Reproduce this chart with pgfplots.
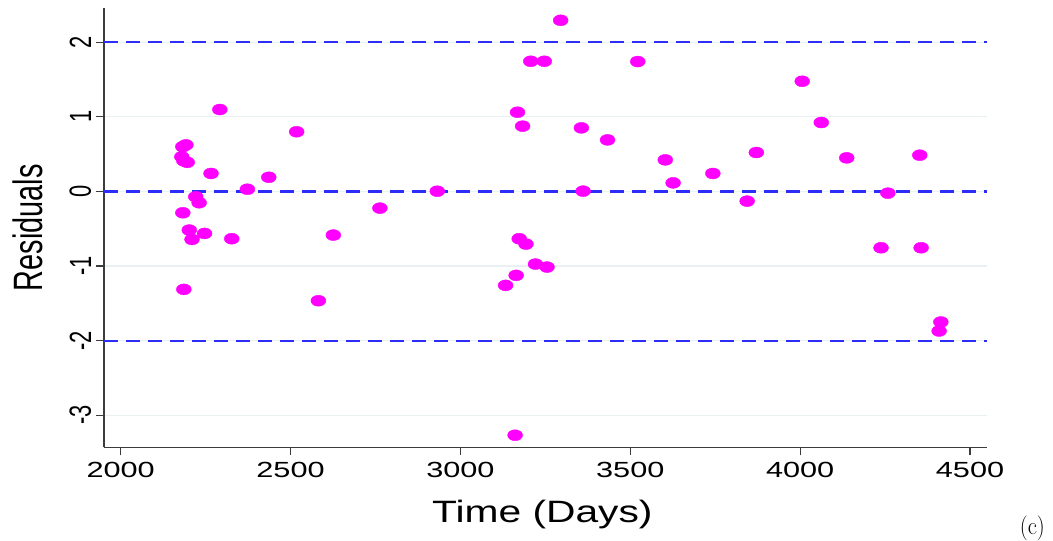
\documentclass[border=0pt]{standalone}
\usepackage{fontspec}
\usepackage{pgfplots}
\pgfplotsset{compat=1.18}
\newfontfamily\arial{Liberation Sans}
\definecolor{refblue}{RGB}{45,45,250}
\definecolor{gridc}{RGB}{232,240,242}
\definecolor{axc}{RGB}{60,60,60}
\definecolor{mag}{RGB}{255,0,255}
\begin{document}
\begin{tikzpicture}
\useasboundingbox (0,0) rectangle (1053bp,-541bp);
\begin{axis}[
  at={(104bp,-447.3bp)}, anchor=south west,
  scale only axis, width=882.7bp, height=439bp,
  xmin=1951, xmax=4549, ymin=-3.43, ymax=2.455,
  axis x line*=bottom, axis y line*=left,
  axis line style={axc, line width=1.3bp, -},
  xtick={2000,2500,...,4500}, ytick={-3,-2,...,2},
  tick align=outside, major tick length=8bp,
  tick style={axc, line width=1.3bp},
  ymajorgrids, major grid style={gridc, line width=1.2bp},
  /pgf/number format/assume math mode=true,
  /pgf/number format/1000 sep={},
  xticklabel style={font=\arial\fontsize{22}{22}\selectfont, xscale=1.4, yshift=-3bp},
  yticklabel style={font=\arial\fontsize{22}{22}\selectfont, xscale=1.4, rotate=90, anchor=south},
  xlabel={Time (Days)}, ylabel={Residuals},
  every axis x label/.style={at={(axis description cs:0.5,0)}, anchor=base, yshift=-75bp, xshift=-3bp,
     font=\arial\fontsize{31}{31}\selectfont, xscale=1.32},
  every axis y label/.style={at={(axis description cs:0,0.5)}, anchor=center, xshift=-76.3bp,
     font=\arial\fontsize{29}{29}\selectfont, xscale=1.42, rotate=90},
  clip=false,
]
\addplot[refblue, line width=2.2bp, dash pattern=on 14bp off 8bp] coordinates {(1951,2) (4549,2)};
\addplot[refblue, line width=2.2bp, dash pattern=on 14bp off 8bp] coordinates {(1951,0) (4549,0)};
\addplot[refblue, line width=2.2bp, dash pattern=on 14bp off 8bp] coordinates {(1951,-2) (4549,-2)};
\addplot[only marks, mark=*, mark size=5.5bp, mark options={xscale=1.36, fill=mag, draw=mag}] coordinates {
(2292,1.098) (2518,0.80) (2192,0.624) (2183,0.60) (2180,0.464) (2186,0.41) (2196,0.39)
(2266,0.241) (2436,0.19) (2373,0.03) (2932,0.003) (2221,-0.072) (2231,-0.152)
(2183,-0.286) (2763,-0.224) (2202,-0.518) (2247,-0.563) (2210,-0.643) (2327,-0.634)
(2626,-0.585) (2186,-1.313) (2582,-1.465)
(3295,2.294) (3207,1.745) (3247,1.745) (3522,1.741) (3168,1.062) (3183,0.875)
(3356,0.852) (3433,0.691) (3603,0.423) (3871,0.522) (3626,0.115) (3743,0.241)
(3361,0.004) (3844,-0.13) (3173,-0.634) (3193,-0.706) (3221,-0.974) (3255,-1.014)
(3164,-1.125) (3133,-1.259) (3161,-3.268)
(4006,1.477) (4062,0.924) (4137,0.45) (4352,0.486) (4258,-0.023) (4238,-0.755)
(4356,-0.755) (4414,-1.75) (4409,-1.871)
};
\end{axis}
\node[anchor=base, font=\fontsize{25}{25}\selectfont, xscale=0.9, inner sep=0pt] at (1032.4bp,-534bp) {(c)};
\end{tikzpicture}
\end{document}
